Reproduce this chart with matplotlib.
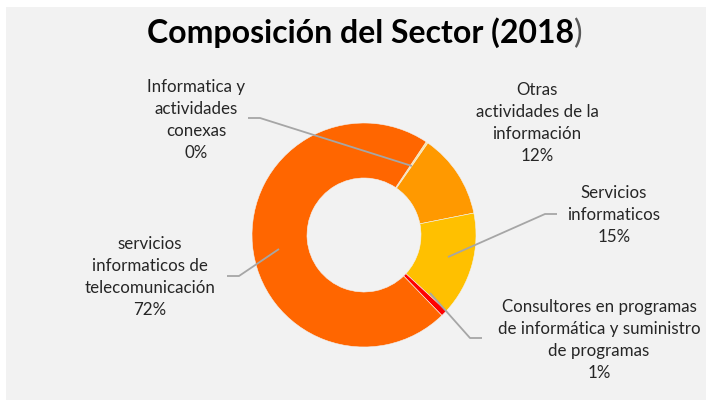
import matplotlib
matplotlib.use("Agg")
import matplotlib.pyplot as plt

plt.rcParams['font.family'] = ['Lato', 'DejaVu Sans']

# Datos (porcentajes)
sectores = ["Informatica y actividades conexas",
            "Otras actividades de la información",
            "Servicios informaticos",
            "Consultores en programas de informática y suministro de programas",
            "servicios informaticos de telecomunicación"]
valores = [0.3, 12.2, 15.0, 0.9, 71.6]
etiquetas = ["Informatica y\nactividades\nconexas\n0%",
             "Otras\nactividades de la\ninformación\n12%",
             "Servicios\ninformaticos\n15%",
             "Consultores en programas\nde informática y suministro\nde programas\n1%",
             "servicios\ninformaticos de\ntelecomunicación\n72%"]
colores = ["#FFE699", "#FF9900", "#FFC000", "#FF0000", "#FF6600"]

W, H = 710, 403
fig = plt.figure(figsize=(W / 100, H / 100), dpi=100)
fig.patch.set_facecolor("white")
ax = fig.add_axes([0, 0, 1, 1])

def Y(y):
    # coordenadas en pixeles desde arriba
    return H - y

# fondo gris del area del grafico
ax.add_patch(plt.Rectangle((6, Y(400)), 700, 393, facecolor="#F2F2F2",
                           edgecolor="none", zorder=0))

cx, cy, R = 364, 235, 112
ax.pie(valores, colors=colores, startangle=56.3, counterclock=False,
       center=(cx, Y(cy)), radius=R, frame=True,
       wedgeprops=dict(width=55, edgecolor="#F2F2F2", linewidth=0.4))
ax.set_xlim(0, W)
ax.set_ylim(0, H)
ax.set_aspect("auto")
ax.axis("off")

# posiciones de etiquetas y lineas guia (pixeles)
pos_texto = [(196, 120), (537, 123), (614, 215), (599, 340), (150, 277)]
guias = [[(248, 118), (260, 118), (412, 166)],
         None,
         [(557, 214), (545, 214), (448, 257)],
         [(482, 338), (470, 338), (430, 293)],
         [(227, 276), (239, 276), (279, 249)]]

for txt, (tx, ty), g in zip(etiquetas, pos_texto, guias):
    ax.text(tx, Y(ty), txt, ha="center", va="center", fontsize=12.2,
            color="#262626", linespacing=1.48, zorder=5)
    if g:
        ax.plot([p[0] for p in g], [Y(p[1]) for p in g], color="#A6A6A6",
                lw=1.3, zorder=4, solid_capstyle="butt")

fs_tit = 23
t1 = ax.text(0, 0, "Composición del Sector (2018", fontsize=fs_tit,
             fontweight="bold", color="black")
t2 = ax.text(0, 0, ")", fontsize=fs_tit, color="#595959")
fig.canvas.draw()
w1 = t1.get_window_extent().width
w2 = t2.get_window_extent().width
t1.remove()
t2.remove()
x0 = 365 - (w1 + w2) / 2
ax.text(x0, Y(43), "Composición del Sector (2018", fontsize=fs_tit,
        fontweight="bold", color="black", ha="left", va="baseline")
ax.text(x0 + w1, Y(43), ")", fontsize=fs_tit, color="#595959",
        ha="left", va="baseline")

fig.savefig("out.png", dpi=100, facecolor=fig.get_facecolor())
